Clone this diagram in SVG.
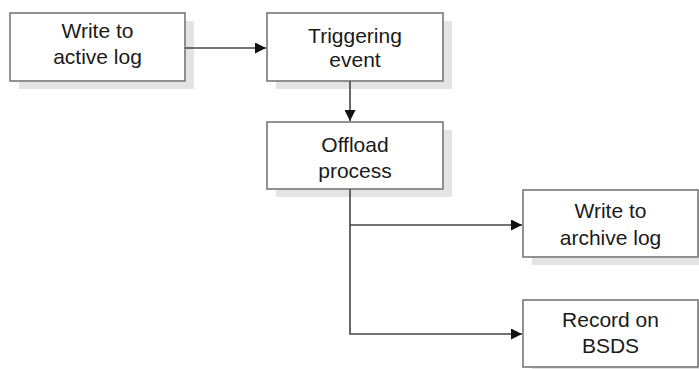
<svg xmlns="http://www.w3.org/2000/svg" width="699" height="369" viewBox="0 0 699 369">
<style>
.shadow{fill:#e4e4e4;}
.box{fill:#ffffff;stroke:#777777;stroke-width:1.6;}
.lbl{font-family:"Liberation Sans",Arial,sans-serif;font-size:21px;fill:#1a1a1a;text-anchor:middle;}
.conn{fill:none;stroke:#444444;stroke-width:1.6;}
</style>
<defs>
<marker id="arr" viewBox="0 0 10 10" refX="10" refY="5" markerWidth="11" markerHeight="11" markerUnits="userSpaceOnUse" orient="auto">
<path d="M0,0 L10,5 L0,10 Z" fill="#111111"/>
</marker>
</defs>
<rect width="699" height="369" fill="#ffffff"/>
<g id="node-write-active">
<rect class="shadow" x="19" y="21" width="175" height="68"/>
<rect class="box" x="10" y="13" width="175" height="68"/>
<text class="lbl" x="97.5" y="38">Write to</text>
<text class="lbl" x="97.5" y="64">active log</text>
</g>
<g id="node-trigger">
<rect class="shadow" x="276" y="21" width="176" height="68"/>
<rect class="box" x="267" y="13" width="176" height="68"/>
<text class="lbl" x="355" y="43">Triggering</text>
<text class="lbl" x="355" y="67">event</text>
</g>
<g id="node-offload">
<rect class="shadow" x="276" y="130" width="176" height="67"/>
<rect class="box" x="267" y="122" width="176" height="67"/>
<text class="lbl" x="355" y="152">Offload</text>
<text class="lbl" x="355" y="178">process</text>
</g>
<g id="node-write-archive">
<rect class="shadow" x="532" y="198" width="175" height="67"/>
<rect class="box" x="523" y="190" width="175" height="67"/>
<text class="lbl" x="610.5" y="218">Write to</text>
<text class="lbl" x="610.5" y="245">archive log</text>
</g>
<g id="node-bsds">
<rect class="shadow" x="532" y="308" width="175" height="67"/>
<rect class="box" x="523" y="300" width="175" height="67"/>
<text class="lbl" x="610.5" y="327">Record on</text>
<text class="lbl" x="610.5" y="353">BSDS</text>
</g>
<g id="connectors">
<line class="conn" x1="185" y1="48" x2="266" y2="48" marker-end="url(#arr)"/>
<line class="conn" x1="350" y1="81" x2="350" y2="121" marker-end="url(#arr)"/>
<polyline class="conn" points="350,189 350,334 522,334" marker-end="url(#arr)"/>
<line class="conn" x1="350" y1="225" x2="522" y2="225" marker-end="url(#arr)"/>
</g>
</svg>
